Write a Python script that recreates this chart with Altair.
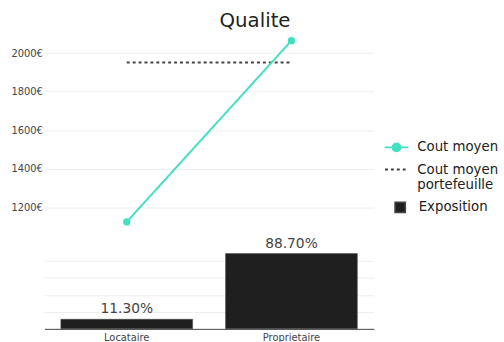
import altair as alt
import pandas as pd

# ---- data ----
categories = ["Locataire", "Proprietaire"]
cout_moyen = [1123, 2065]
cout_portefeuille = 1952
exposition = [0.113, 0.887]
exposition_labels = ["11.30%", "88.70%"]
y_ticks = [1200, 1400, 1600, 1800, 2000]
bar_grid = [0.2, 0.4, 0.6, 0.8]
series_names = ["Cout moyen", "Cout moyen|portefeuille", "Exposition"]

TEAL = "#40e0c0"
DARK = "#1f1f1f"
TXT = "#444444"
FONT = "DejaVu Sans"

line_df = pd.DataFrame({"cat": categories, "val": cout_moyen, "serie": series_names[0]})
rule_df = pd.DataFrame({"x1": [categories[0]], "x2": [categories[-1]],
                        "val": [cout_portefeuille], "serie": [series_names[1]]})
bar_df = pd.DataFrame({"cat": categories, "val": exposition,
                       "label": exposition_labels, "serie": series_names[2]})

x_top_scale = alt.Scale(type="point", padding=0.5, domain=categories)
y_top = alt.Y("val:Q",
              scale=alt.Scale(domain=[1080, 2110], nice=False, zero=False),
              axis=alt.Axis(values=y_ticks, labelExpr="datum.value + '€'", title=None,
                            ticks=False, domain=False, gridColor="#eeeeee",
                            labelFont=FONT, labelFontSize=10, labelColor=TXT, labelPadding=2))

line_symbol = ("M-1,0L1,0M-0.33,0A0.33,0.33,0,1,0,0.33,0"
               "A0.33,0.33,0,1,0,-0.33,0Z")

line = alt.Chart(line_df).mark_line(point=alt.OverlayMarkDef(filled=True, size=55, color=TEAL),
                                    strokeWidth=2).encode(
    x=alt.X("cat:N", scale=x_top_scale, axis=None, sort=categories),
    y=y_top,
    color=alt.Color("serie:N",
                    scale=alt.Scale(domain=[series_names[0]], range=[TEAL]),
                    legend=alt.Legend(title=None, orient="none", legendX=344, legendY=104,
                                      symbolType=line_symbol, symbolSize=576,
                                      symbolStrokeWidth=2, labelOffset=8,
                                      symbolFillColor=TEAL,
                                      labelFont=FONT, labelFontSize=13.5, labelColor="#222")),
)

rule = alt.Chart(rule_df).mark_rule(color=TXT, strokeWidth=2).encode(
    x=alt.X("x1:N", scale=x_top_scale, axis=None, sort=categories),
    x2="x2:N",
    y="val:Q",
    strokeDash=alt.StrokeDash("serie:N",
                              scale=alt.Scale(domain=[series_names[1]], range=[[3, 3]]),
                              legend=alt.Legend(title=None, orient="none", legendX=344, legendY=127,
                                                symbolType="stroke", symbolSize=500,
                                                symbolStrokeColor=TXT, symbolStrokeWidth=2,
                                                labelOffset=9, labelExpr="split(datum.label, '|')",
                                                labelFont=FONT, labelFontSize=13.5, labelColor="#222")),
)

top = alt.layer(rule, line).properties(width=334, height=201)

x_bot = alt.X("cat:N", sort=categories,
              scale=alt.Scale(domain=categories, paddingInner=0.2, paddingOuter=0.1),
              axis=alt.Axis(title=None, labelAngle=0, ticks=False, domainColor=TXT,
                            labelColor=TXT, labelFont=FONT, labelFontSize=10, labelPadding=4))
y_bot = alt.Y("val:Q", scale=alt.Scale(domain=[0, 0.93], nice=False),
              axis=alt.Axis(values=bar_grid, labels=False, ticks=False, domain=False,
                            title=None, gridColor="#eeeeee"))

bars = alt.Chart(bar_df).mark_bar(stroke=TXT, strokeWidth=0.5).encode(
    x=x_bot, y=y_bot,
    color=alt.Color("serie:N",
                    scale=alt.Scale(domain=[series_names[2]], range=[DARK]),
                    legend=alt.Legend(title=None, orient="none", legendX=354, legendY=-50,
                                      symbolType="square", symbolSize=110,
                                      labelOffset=12, labelFont=FONT, labelFontSize=13.5,
                                      labelColor="#222")),
)
labels = alt.Chart(bar_df).mark_text(baseline="bottom", dy=-3, fontSize=14, font=FONT,
                                     color=TXT).encode(x=x_bot, y=y_bot, text="label:N")

bottom = alt.layer(bars, labels).properties(width=334, height=80)

chart = alt.vconcat(top, bottom, spacing=20, bounds="flush").resolve_scale(
    color="independent", strokeDash="independent"
).resolve_legend(color="independent", strokeDash="independent").properties(
    title=alt.TitleParams("Qualite", fontSize=20, font=FONT, color="#222",
                          fontWeight="normal", anchor="middle", offset=1),
    padding={"left": 11, "top": 9, "right": 5, "bottom": 5},
    background="white",
).configure_view(stroke=None, strokeWidth=0)

chart.save("out.html", embed_options={"renderer": "svg", "actions": False})
